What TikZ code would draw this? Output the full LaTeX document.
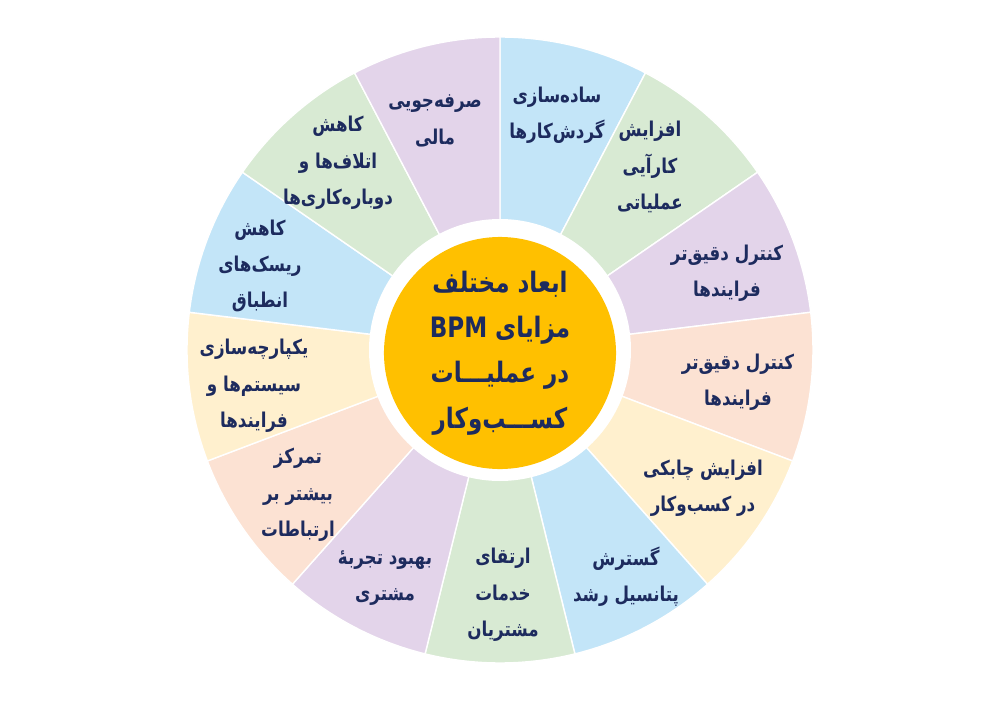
\documentclass[tikz,border=0pt]{standalone}
\usepackage{fontspec}
\newfontfamily\arabicfont[Script=Arabic,FakeStretch=0.82]{DejaVu Sans}
\TeXXeTstate=1
\definecolor{segblue}{HTML}{C3E5F8}
\definecolor{seggreen}{HTML}{D8EAD3}
\definecolor{seglilac}{HTML}{E3D4EA}
\definecolor{segpeach}{HTML}{FCE2D3}
\definecolor{segyellow}{HTML}{FFF0CE}
\definecolor{hubgold}{HTML}{FFC000}
\definecolor{inknavy}{HTML}{1D2B5E}
\newcommand{\fa}[1]{\beginR #1\endR}
\begin{document}
\begin{tikzpicture}[x=0.025cm,y=0.025cm,
    lbl/.style={align=center,text=inknavy,inner sep=0pt,font=\arabicfont\bfseries\fontsize{14.5}{25.8}\selectfont},
    hub/.style={circle,fill=hubgold,minimum size=5.8cm,inner sep=0pt,align=center,text=inknavy,font=\arabicfont\bfseries\fontsize{20}{32.3}\selectfont}]
\useasboundingbox (-500,-355) rectangle (500,350);
\foreach \k/\col in {0/segblue,1/seggreen,2/seglilac,3/segpeach,4/segyellow,5/segblue,6/seggreen,7/seglilac,8/segpeach,9/segyellow,10/segblue,11/seggreen,12/seglilac}
    \filldraw[fill=\col,draw=white,line width=1pt] (0,0) -- ({90-\k*360/13}:313) arc[start angle={90-\k*360/13},end angle={90-(\k+1)*360/13},radius=313] -- cycle;
\fill[white] (0,0) circle[radius=131];
\node[hub] (hub) at (0,-3) {\fa{ابعاد مختلف}\\\fa{مزایای \beginL BPM\endL}\\\fa{در عملیـــات}\\\fa{کســـب‌وکار}};
\node[lbl] (s1) at (57,235) {\fa{ساده‌سازی}\\\fa{گردش‌کارها}};
\node[lbl] (s2) at (150,183) {\fa{افزایش}\\\fa{کارآیی}\\\fa{عملیاتی}};
\node[lbl] (s3) at (227,77) {\fa{کنترل دقیق‌تر}\\\fa{فرایندها}};
\node[lbl] (s4) at (238,-32) {\fa{کنترل دقیق‌تر}\\\fa{فرایندها}};
\node[lbl] (s5) at (203,-138) {\fa{افزایش چابکی}\\\fa{در کسب‌وکار}};
\node[lbl] (s6) at (126,-227) {\fa{گسترش}\\\fa{پتانسیل رشد}};
\node[lbl] (s7) at (3,-245) {\fa{ارتقای}\\\fa{خدمات}\\\fa{مشتریان}};
\node[lbl] (s8) at (-115,-228) {\fa{بهبود تجربهٔ}\\\fa{مشتری}};
\node[lbl] (s9) at (-202,-145) {\fa{تمرکز}\\\fa{بیشتر بر}\\\fa{ارتباطات}};
\node[lbl] (s10) at (-246,-36) {\fa{یکپارچه‌سازی}\\\fa{سیستم‌ها و}\\\fa{فرایندها}};
\node[lbl] (s11) at (-240,84) {\fa{کاهش}\\\fa{ریسک‌های}\\\fa{انطباق}};
\node[lbl] (s12) at (-162,187) {\fa{کاهش}\\\fa{اتلاف‌ها و}\\\fa{دوباره‌کاری‌ها}};
\node[lbl] (s13) at (-65,229) {\fa{صرفه‌جویی}\\\fa{مالی}};
\end{tikzpicture}
\end{document}
